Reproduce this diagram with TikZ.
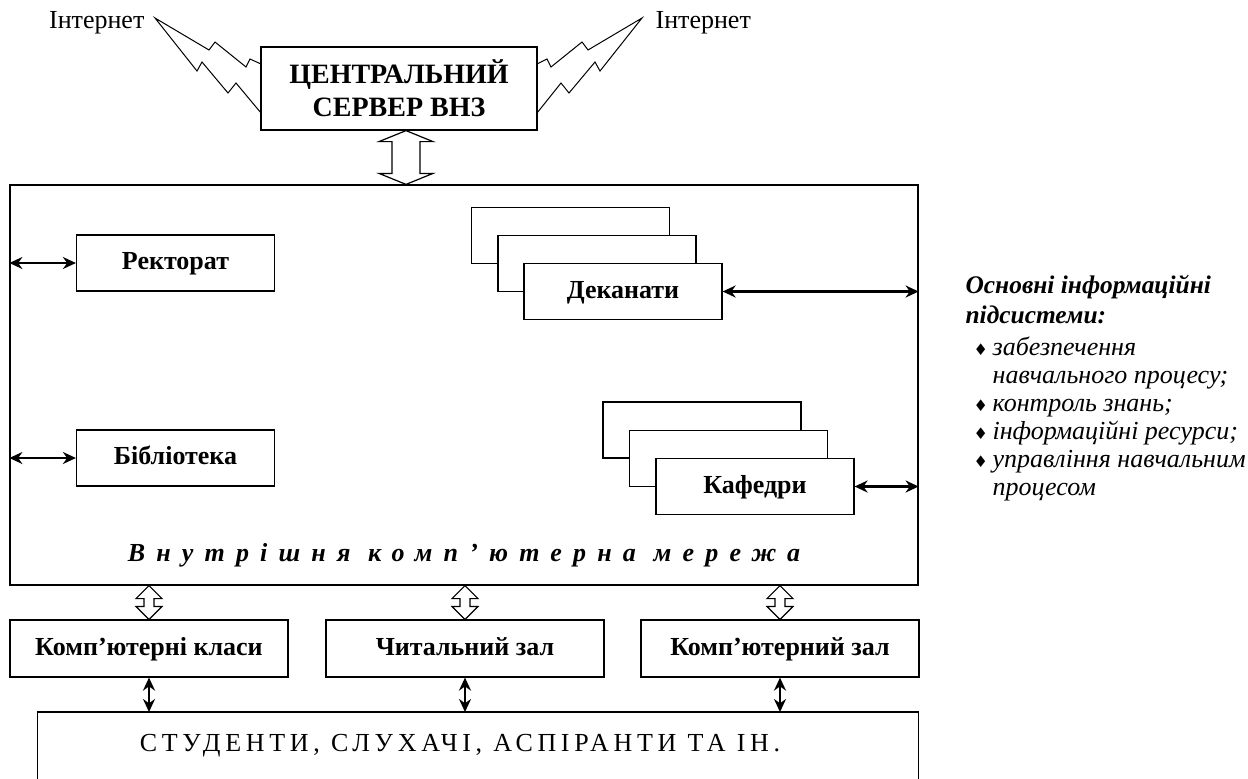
\documentclass[tikz,border=0pt]{standalone}
\usepackage{fontspec}
\setmainfont{Liberation Serif}
\newfontfamily\symfont{DejaVu Sans}
\newfontfamily\netfont[LetterSpace=43]{Liberation Serif}
\newfontfamily\studfont[LetterSpace=18]{Liberation Serif}
\usetikzlibrary{arrows.meta,calc}
\tikzset{
    >={Stealth[length=6.5pt,width=6pt]},
    scheme/.style={
        x=0.5pt,y=-0.5pt,line width=0.6pt,
        unit/.append style={draw,rectangle,inner sep=0pt,text height=9pt,text depth=2.5pt,font=\fontsize{13}{15}\selectfont\bfseries},
        sub/.append style={unit,fill=white,minimum width=99pt,minimum height=28pt},
        hall/.append style={unit,minimum width=139pt,minimum height=28.5pt},
        stack/.append style={draw,fill=white,minimum width=99pt,minimum height=28pt},
        link/.append style={<->,line width=1.2pt},
        hollow/.append style={draw,fill=white,line width=0.6pt,line join=miter},
        bolt/.append style={draw,line width=0.5pt,line join=miter}
    }
}
% double hollow arrow: top, bottom, head half width, shaft half width, head length
\newcommand{\dblarrow}[5]{%
    \path[hollow] let \p1=(#1), \p2=(#2) in
        (\x1,\y1) -- (\x1+#3,\y1-#5) -- (\x1+#4,\y1-#5) -- (\x1+#4,\y2+#5) -- (\x1+#3,\y2+#5)
        -- (\x1,\y2) -- (\x1-#3,\y2+#5) -- (\x1-#4,\y2+#5) -- (\x1-#4,\y1-#5) -- (\x1-#3,\y1-#5) -- cycle;}
\newcommand{\bul}{\hspace*{4pt}\makebox[9.5pt][l]{\symfont\upshape\fontsize{8}{8}\selectfont ♦}}
\newcommand{\ind}{\hspace*{13.5pt}}

\begin{document}
\begin{tikzpicture}[scheme]
    \useasboundingbox (0,0) rectangle (1248,778);

    % server and internet links
    \node[draw,align=center,inner sep=0pt,minimum width=138pt,minimum height=41.5pt,font=\fontsize{14}{16.5}\selectfont\bfseries] (srv) at (399,88.5) {ЦЕНТРАЛЬНИЙ\\СЕРВЕР ВНЗ};
    \node[anchor=east,inner sep=0pt,font=\fontsize{13}{15}\selectfont] (inetL) at (145,23) {Інтернет};
    \node[anchor=west,inner sep=0pt,font=\fontsize{13}{15}\selectfont] (inetR) at (655,23) {Інтернет};
    \coordinate (tipL) at (155,18);
    \coordinate (tipR) at (642,18);
    \draw[bolt] (261,64) -- (250,59) -- (246,67) -- (215,42) -- (209,50) -- (tipL)
        -- (197,71) -- (202,62) -- (228,93) -- (236,83) -- (261,113);
    \draw[bolt] (537,64) -- (547,59) -- (551,67) -- (582,42) -- (588,50) -- (tipR)
        -- (600,71) -- (595,62) -- (569,93) -- (561,83) -- (537,113);

    % internal network
    \node[draw,minimum width=454pt,minimum height=200pt] (net) at (464,385) {};
    \node[font=\fontsize{13}{15}\selectfont\netfont\bfseries\itshape] (nettxt) at (464,555) {Внутрішня комп’ютерна мережа};
    \coordinate (ax) at (406,0);
    \dblarrow{srv.south -| ax}{net.north -| ax}{13.5pt}{7pt}{5.5pt}

    \node[sub] (rect) at (175.5,263) {Ректорат};
    \node[sub] (lib) at (175.5,458) {Бібліотека};
    \draw[link] (net.west |- rect) -- (rect.west);
    \draw[link] (net.west |- lib) -- (lib.west);

    \node[stack] (dek3) at (570.5,235.5) {};
    \node[stack] (dek2) at (597,263.5) {};
    \node[sub] (dek) at (623,291.5) {Деканати};
    \draw[link] (dek.east) -- (dek.east -| net.east);

    \node[stack] (kaf3) at (702,430) {};
    \node[stack] (kaf2) at (728.5,458.5) {};
    \node[sub] (kaf) at (755,486.5) {Кафедри};
    \draw[link] (kaf.east) -- (kaf.east -| net.east);

    % halls and students
    \node[hall] (cls) at (149,648.5) {Комп’ютерні класи};
    \node[hall] (read) at (465,648.5) {Читальний зал};
    \node[hall] (comp) at (780,648.5) {Комп’ютерний зал};
    \node[anchor=north,minimum width=440pt,minimum height=33pt,font=\fontsize{13}{15}\selectfont\studfont] (stud) at (478,712) {СТУДЕНТИ, СЛУХАЧІ, АСПІРАНТИ ТА ІН.\hspace*{18pt}};
    \draw (stud.south west) -- (stud.north west) -- (stud.north east) -- (stud.south east);
    \foreach \h in {cls,read,comp} {
        \dblarrow{net.south -| \h}{\h.north}{6.5pt}{2.5pt}{6.5pt}
        \draw[link] (\h.south) -- (\h.south |- stud.north);
    }

    % subsystems list
    \node[anchor=north west,align=left,inner sep=0pt,font=\fontsize{13}{14}\selectfont\itshape] (subs) at (965,275) {%
        {\bfseries\fontsize{12.7}{14}\selectfont Основні інформаційні}\\[1pt]
        {\bfseries\fontsize{12.7}{14}\selectfont підсистеми:}\\[2pt]
        \bul забезпечення\\
        \ind навчального процесу;\\
        \bul контроль знань;\\
        \bul інформаційні ресурси;\\
        \bul управління навчальним\\
        \ind процесом};
\end{tikzpicture}
\end{document}
